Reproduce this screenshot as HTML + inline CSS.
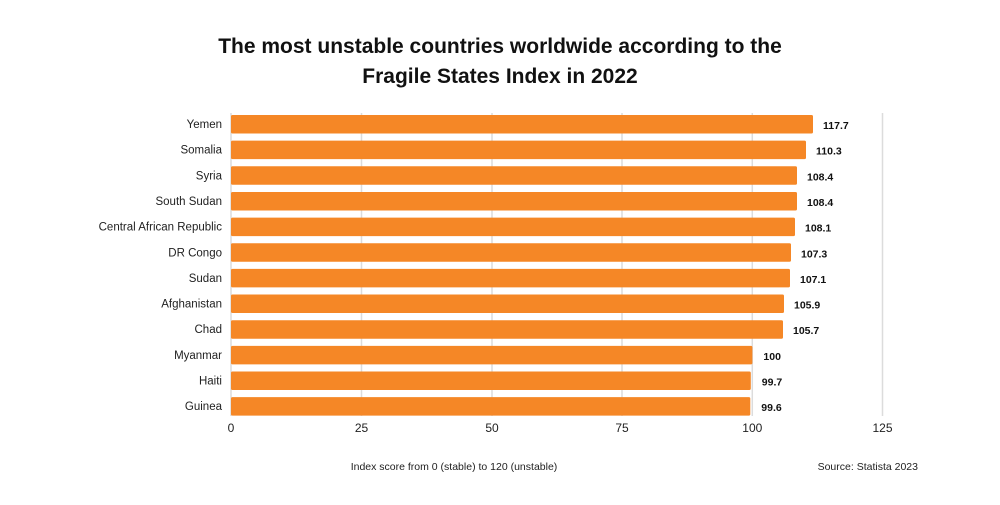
<!DOCTYPE html>
<html><head><meta charset="utf-8"><style>
body{margin:0;background:#fff;font-family:"Liberation Sans",sans-serif;}
</style></head><body>
<svg width="1000" height="500" xmlns="http://www.w3.org/2000/svg" font-family="Liberation Sans, sans-serif">
<rect width="1000" height="500" fill="#fff"/>
<text x="500" y="53" text-anchor="middle" font-size="21" font-weight="bold" fill="#111">The most unstable countries worldwide according to the</text>
<text x="500" y="83" text-anchor="middle" font-size="21" font-weight="bold" fill="#111">Fragile States Index in 2022</text>
<g stroke="#dcdcdc" stroke-width="1.5">
<line x1="231" y1="113" x2="231" y2="416"/>
<line x1="361.5" y1="113" x2="361.5" y2="416"/>
<line x1="492" y1="113" x2="492" y2="416"/>
<line x1="622" y1="113" x2="622" y2="416"/>
<line x1="752.3" y1="113" x2="752.3" y2="416"/>
<line x1="882.5" y1="113" x2="882.5" y2="416"/>
</g>
<g font-size="12" fill="#222" text-anchor="middle">
<text x="231" y="432">0</text><text x="361.5" y="432">25</text><text x="492" y="432">50</text><text x="622" y="432">75</text><text x="752.3" y="432">100</text><text x="882.5" y="432">125</text>
</g>
<g fill="#F58726">
<rect x="231" y="115" width="582" height="18.5" rx="1.5"/>
<rect x="231" y="140.65" width="575" height="18.5" rx="1.5"/>
<rect x="231" y="166.3" width="566" height="18.5" rx="1.5"/>
<rect x="231" y="191.95" width="566" height="18.5" rx="1.5"/>
<rect x="231" y="217.6" width="564" height="18.5" rx="1.5"/>
<rect x="231" y="243.25" width="560" height="18.5" rx="1.5"/>
<rect x="231" y="268.9" width="559" height="18.5" rx="1.5"/>
<rect x="231" y="294.55" width="553" height="18.5" rx="1.5"/>
<rect x="231" y="320.2" width="552" height="18.5" rx="1.5"/>
<rect x="231" y="345.85" width="521.4" height="18.5" rx="1.5"/>
<rect x="231" y="371.5" width="519.8" height="18.5" rx="1.5"/>
<rect x="231" y="397.15" width="519.3" height="18.5" rx="1.5"/>
</g>
<g font-size="11.5" fill="#222" text-anchor="end">
<text x="222" y="128">Yemen</text>
<text x="222" y="153.65">Somalia</text>
<text x="222" y="179.3">Syria</text>
<text x="222" y="204.95">South Sudan</text>
<text x="222" y="230.6">Central African Republic</text>
<text x="222" y="256.25">DR Congo</text>
<text x="222" y="281.9">Sudan</text>
<text x="222" y="307.55">Afghanistan</text>
<text x="222" y="333.2">Chad</text>
<text x="222" y="358.85">Myanmar</text>
<text x="222" y="384.5">Haiti</text>
<text x="222" y="410.15">Guinea</text>
</g>
<g font-size="10.5" font-weight="bold" fill="#111">
<text x="823" y="129">117.7</text>
<text x="816" y="154.65">110.3</text>
<text x="807" y="180.3">108.4</text>
<text x="807" y="205.95">108.4</text>
<text x="805" y="231.6">108.1</text>
<text x="801" y="257.25">107.3</text>
<text x="800" y="282.9">107.1</text>
<text x="794" y="308.55">105.9</text>
<text x="793" y="334.2">105.7</text>
<text x="763.4" y="359.85">100</text>
<text x="761.8" y="385.5">99.7</text>
<text x="761.3" y="411.15">99.6</text>
</g>
<text x="454" y="470" text-anchor="middle" font-size="10.5" fill="#222">Index score from 0 (stable) to 120 (unstable)</text>
<text x="918" y="470" text-anchor="end" font-size="10.5" fill="#222">Source: Statista 2023</text>
</svg>
</body></html>
